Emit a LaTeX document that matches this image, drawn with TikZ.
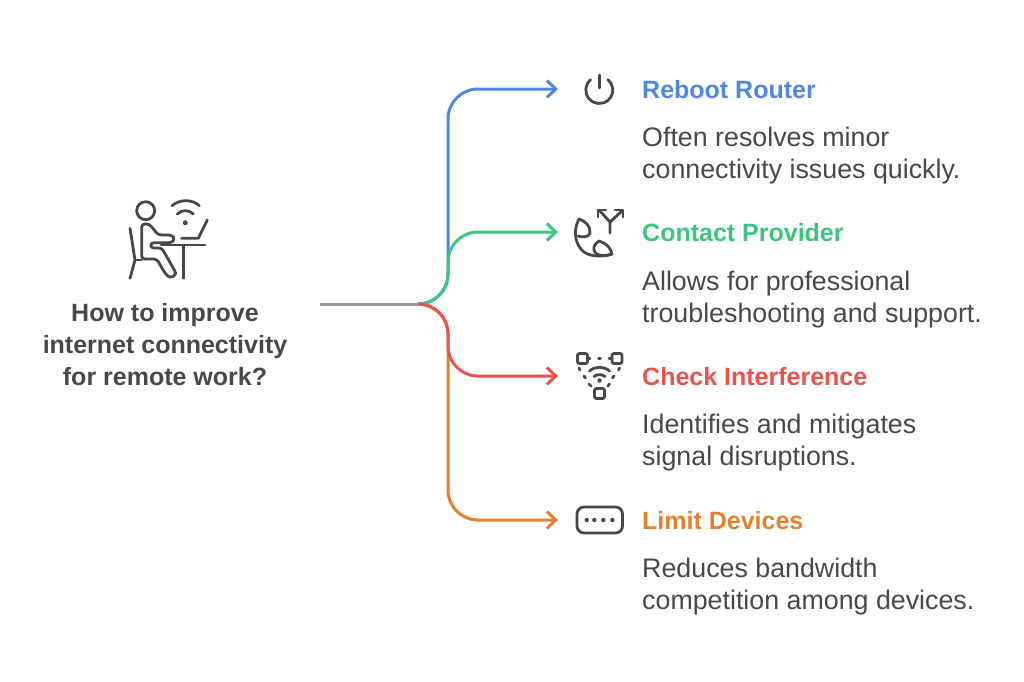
\documentclass[tikz,border=0pt]{standalone}
\usepackage{fontspec}
\setmainfont{Liberation Sans}
\usetikzlibrary{arrows.meta}
\definecolor{ink}{HTML}{484848}
\definecolor{stem}{HTML}{999999}
\definecolor{rebootcol}{HTML}{4F86E8}
\definecolor{contactcol}{HTML}{3CC480}
\definecolor{checkcol}{HTML}{E8534E}
\definecolor{limitcol}{HTML}{E5812D}
\tikzset{
  link/.style={line width=3pt,rounded corners=30pt,-{Straight Barb[length=9pt,width=17pt,line width=3pt]}},
  head/.style={anchor=west,inner sep=0pt,font=\fontsize{25}{32}\selectfont\bfseries},
  desc/.style={anchor=north west,inner sep=0pt,align=left,text=ink,font=\fontsize{26.8}{32}\selectfont},
  icon/.style={draw=ink,line width=2.8pt,line cap=round,line join=round},
}
\begin{document}
\begin{tikzpicture}[x=1pt,y=-1pt]
\useasboundingbox (0,0) rectangle (1024,681);
\coordinate (start) at (320,304);
\coordinate (hub) at (418,304);
\coordinate (bus) at (448,304);
\coordinate (tipA) at (558,89);
\coordinate (tipB) at (558,232);
\coordinate (tipC) at (558,376);
\coordinate (tipD) at (558,520);
% connectors
\draw[link,rebootcol] (hub)--(bus)--(bus|-tipA)--(tipA);
\draw[link,limitcol] (hub)--(bus)--(bus|-tipD)--(tipD);
\draw[link,contactcol] (hub)--(bus)--(bus|-tipB)--(tipB);
\draw[link,checkcol] (hub)--(bus)--(bus|-tipC)--(tipC);
\draw[line width=3pt,stem] (start)--(hub);
% texts
\node[inner sep=0pt,align=center,text=ink,font=\fontsize{25}{32}\selectfont\bfseries] (question) at (165,344.5) {How to improve\\internet connectivity\\for remote work?};
\node[head,text=rebootcol] (reboot) at (642,89.5) {Reboot Router};
\node[head,text=contactcol] (contact) at (642,232.5) {Contact Provider};
\node[head,text=checkcol] (check) at (642,376.5) {Check Interference};
\node[head,text=limitcol] (limit) at (642,520.5) {Limit Devices};
\node[desc] (rebootdesc) at (642,126.5) {Often resolves minor\\connectivity issues quickly.};
\node[desc] (contactdesc) at (642,270.5) {Allows for professional\\troubleshooting and support.};
\node[desc] (checkdesc) at (642,413.5) {Identifies and mitigates\\signal disruptions.};
\node[desc] (limitdesc) at (642,557.5) {Reduces bandwidth\\competition among devices.};
% person with laptop
\draw[icon] (145.7,210.7) circle (9);
\draw[icon,rounded corners=3pt] (149.3,224)--(141.7,224)--(141.7,259)--(156.7,259)--(165.5,274)--(170,278)--(176,275)--(175,271)--(161.7,248)--(150.7,248)--(150.7,242.7)--(171.7,242.7)--(175,239)--(171.7,235)--(158.3,235)--cycle;
\draw[icon] (130,228.3)--(135,260)--(130,278.3);
\draw[icon] (135,260)--(141.7,260);
\draw[icon] (161,245)--(205,245);
\draw[icon] (183.3,245)--(183.3,278.3);
\draw[icon] (181.7,238.3)--(198.3,238.3)--(207.3,220);
\draw[icon] (172,205.7) .. controls (180,199) and (192,199) .. (199.3,205.7);
\draw[icon] (177.3,214) .. controls (182,209.5) and (189,209.5) .. (193.3,214);
\fill[ink] (185.3,222.7) circle (2.5);
% power
\draw[icon] (590.6,79.66) arc (-130:-410:13.5);
\draw[icon] (599.3,75)--(599.3,88);
% phone with split arrow
\draw[icon] (579,219) .. controls (572,232) and (576,246) .. (584,252) .. controls (591,257) and (603,257) .. (612,254);
\draw[icon] (579,219) .. controls (585,221) and (591,226) .. (590,233) .. controls (589,238) and (581,237) .. (578,236);
\draw[icon] (599,241) .. controls (606,243) and (611,248) .. (612,254) .. controls (606,256) and (596,257) .. (594,250) .. controls (593,246) and (596,243) .. (599,241);
\draw[icon] (610,233)--(610,222)--(600,211);
\draw[icon] (610,222)--(622,211);
\draw[icon] (598,217)--(598,210)--(606,210);
\draw[icon] (615,210)--(623,210)--(623,217);
% devices with wifi
\draw[icon,rounded corners=2pt] (577.5,353.5) rectangle (587.5,363.5);
\draw[icon,rounded corners=2pt] (612,353.5) rectangle (622,363.5);
\draw[icon,rounded corners=2pt] (594.5,388.5) rectangle (604.5,398.5);
\draw[icon] (587.5,358.5)--(590,358.5);
\draw[icon] (598.5,358.5)--(600.5,358.5);
\draw[icon] (609,358.5)--(612,358.5);
\draw[icon] (579,368)--(580,370);
\draw[icon] (584,376)--(585.5,378);
\draw[icon] (589,384)--(591,386);
\draw[icon] (619.5,368)--(618.5,370);
\draw[icon] (614,376)--(612.5,378);
\draw[icon] (609.5,384)--(608,386);
\draw[icon] (589.5,371) .. controls (595,366) and (604,366) .. (609.5,371);
\draw[icon] (594,376.5) .. controls (597,374) and (602,374) .. (605,376.5);
\fill[ink] (599.5,380.5) circle (2.2);
% keypad
\draw[icon,rounded corners=7pt] (577,507) rectangle (622.5,533);
\fill[ink] (586.7,520) circle (2.2) (594.3,520) circle (2.2) (603.3,520) circle (2.2) (612.3,520) circle (2.2);
\end{tikzpicture}
\end{document}
